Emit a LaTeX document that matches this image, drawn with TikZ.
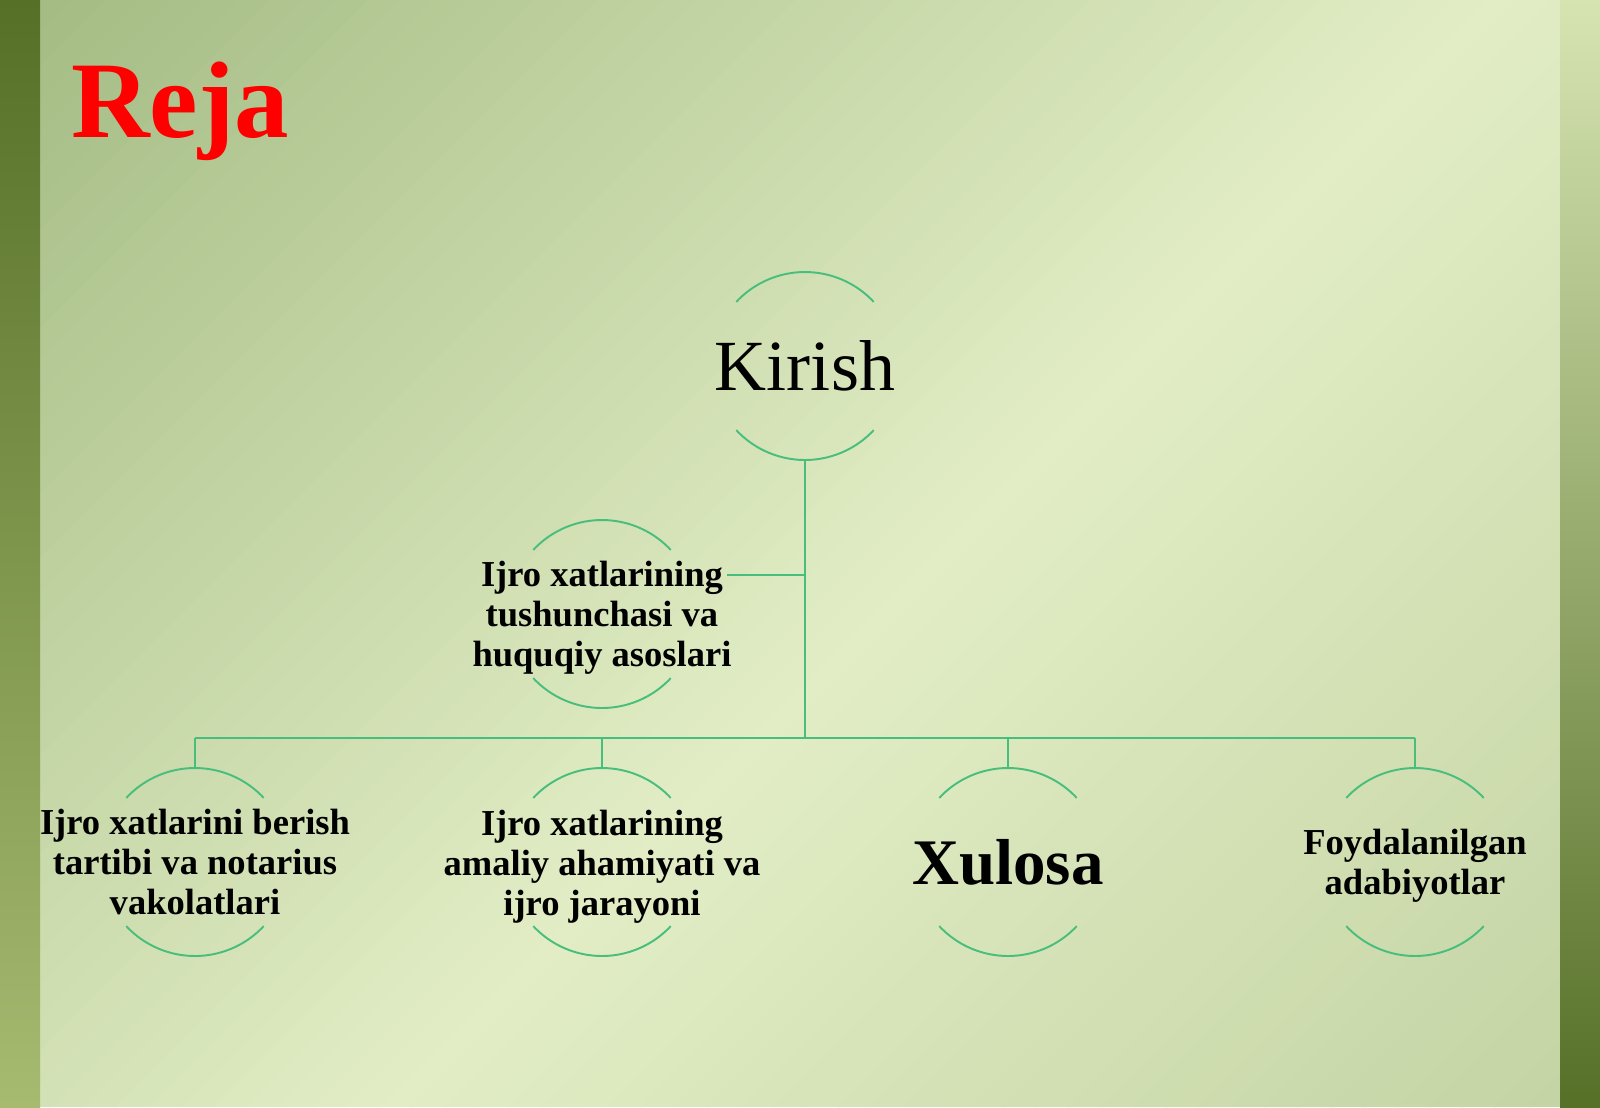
\documentclass[tikz,border=0pt]{standalone}
\usepackage{fontspec}
\setmainfont{Liberation Serif}
\definecolor{linegreen}{RGB}{72,190,125}
\definecolor{bgdark}{RGB}{164,188,132}
\definecolor{bglight}{RGB}{226,237,197}
\definecolor{bgmid}{RGB}{196,212,164}
\definecolor{banddark}{RGB}{86,112,40}
\definecolor{bandlight}{RGB}{166,186,112}
\definecolor{bandpale}{RGB}{214,228,178}
\tikzset{
  ring/.style={draw=linegreen, line width=1.1pt},
  link/.style={draw=linegreen, line width=1.3pt},
  topic/.style={font=\bfseries\fontsize{20.8}{22.8}\selectfont, align=center, inner sep=0pt}
}
\newcommand{\ringarcs}[1]{%
  \draw[ring] ([shift={(43:1.88cm)}]#1) arc (43:137:1.88cm);
  \draw[ring] ([shift={(223:1.88cm)}]#1) arc (223:317:1.88cm);}
\begin{document}
\begin{tikzpicture}[x=0.02cm, y=0.02cm]
    \useasboundingbox (0,0) rectangle (1600,-1107);
    % background, diagonal stripes
    \begin{scope}
    \clip (40,0) rectangle (1560,-1107);
    \foreach \k in {0,...,43}{
        \pgfmathsetmacro\sa{\k*32.84}
        \pgfmathsetmacro\pc{100*(\k+0.5)/44}
        \fill[bglight!\pc!bgdark] ({40+\sa},0) -- ({75+\sa},0) -- ({75+\sa-1107},-1107) -- ({40+\sa-1107},-1107) -- cycle;
    }
    \foreach \k in {44,...,79}{
        \pgfmathsetmacro\sa{\k*32.84}
        \pgfmathsetmacro\pc{100*(79.5-\k)/36}
        \fill[bglight!\pc!bgmid] ({40+\sa},0) -- ({75+\sa},0) -- ({75+\sa-1107},-1107) -- ({40+\sa-1107},-1107) -- cycle;
    }
    \end{scope}
    \shade[top color=banddark, bottom color=bandlight] (0,0) rectangle (40,-1107);
    \shade[top color=bandpale, bottom color=banddark] (1560,0) rectangle (1600,-1107);

    \node[anchor=base, text=red, font=\bfseries\fontsize{62}{66}\selectfont] (reja) at (180,-137) {Reja};

    \node[inner sep=0pt, font=\fontsize{41}{44}\selectfont] (kirish) at (805,-366) {Kirish};
    \node[topic] (tushuncha) at (602,-618) {Ijro xatlarining\\tushunchasi va\\huquqiy asoslari};
    \node[topic] (tartib) at (195,-862) {Ijro xatlarini berish\\tartibi va notarius\\vakolatlari};
    \node[topic] (amaliy) at (602,-867) {Ijro xatlarining\\amaliy ahamiyati va\\ijro jarayoni};
    \node[topic, font=\bfseries\fontsize{37}{40}\selectfont] (xulosa) at (1008,-862) {Xulosa};
    \node[topic] (adabiyot) at (1415,-866) {Foydalanilgan\\adabiyotlar};

    \coordinate (c1) at (805,-366);
    \coordinate (c2) at (602,-614);
    \foreach \n in {c1,c2,tartib,xulosa}{
        \ringarcs{\n}
    }
    \ringarcs{602,-862}
    \ringarcs{1415,-862}

    % connectors
    \coordinate (hub) at (805,-738);
    \coordinate (asstend) at (727,-575);
    \draw[link] ([yshift=-1.88cm]c1) -- (hub);
    \draw[link] (asstend) -- (kirish |- asstend);
    \draw[link] (tartib |- hub) -- (adabiyot |- hub);
    \foreach \n in {tartib,amaliy,xulosa,adabiyot}
        \draw[link] (\n |- hub) -- ([yshift=1.88cm]\n |- xulosa);
\end{tikzpicture}
\end{document}
